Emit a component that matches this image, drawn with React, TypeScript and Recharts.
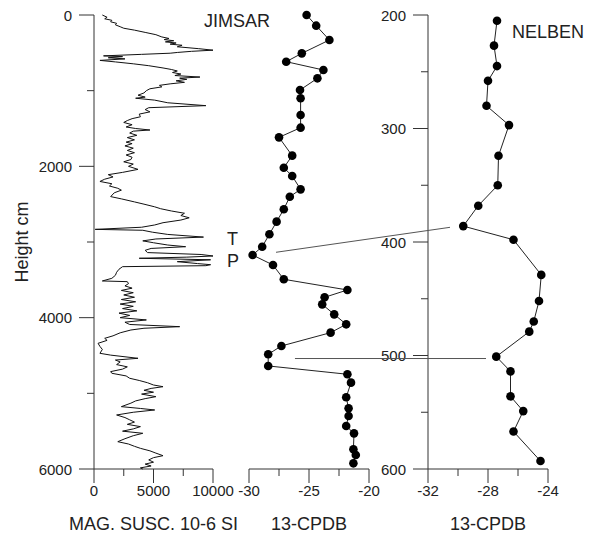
import { ReferenceLine, Scatter, ScatterChart, XAxis, YAxis } from "recharts";

// magnetic susceptibility log, Jimsar section (height cm, 10-6 SI)
const magHeights = [
  0, 30, 50, 70, 90, 110, 130, 155, 175, 200, 230, 260, 290, 310, 325, 340, 355, 370, 385, 400,
  420, 445, 465, 480, 495, 505, 520, 540, 550, 565, 580, 600, 620, 645, 670, 700, 720, 740, 760, 780,
  800, 820, 835, 850, 870, 890, 910, 930, 950, 975, 1000, 1030, 1060, 1085, 1100, 1125, 1160, 1198, 1225, 1250,
  1280, 1310, 1345, 1370, 1395, 1420, 1450, 1480, 1500, 1520, 1535, 1560, 1590, 1620, 1650, 1680, 1700, 1730, 1760, 1790,
  1820, 1850, 1880, 1910, 1940, 1970, 2000, 2040, 2080, 2110, 2140, 2170, 2200, 2230, 2260, 2290, 2315, 2350, 2400, 2430,
  2470, 2500, 2535, 2560, 2590, 2620, 2650, 2680, 2710, 2745, 2775, 2805, 2833, 2845, 2870, 2900, 2935, 2960, 2985, 3010,
  3040, 3062, 3085, 3110, 3140, 3165, 3185, 3200, 3215, 3235, 3260, 3285, 3300, 3313, 3326, 3360, 3400, 3440, 3480, 3515,
  3524, 3550, 3580, 3610, 3640, 3670, 3700, 3730, 3760, 3790, 3820, 3850, 3880, 3910, 3940, 3970, 4000, 4030, 4060, 4090,
  4119, 4140, 4163, 4200, 4240, 4273, 4300, 4339, 4380, 4420, 4471, 4495, 4537, 4560, 4585, 4620, 4650, 4680, 4713, 4735,
  4770, 4801, 4830, 4860, 4890, 4912, 4935, 4960, 4985, 5010, 5044, 5070, 5100, 5130, 5176, 5200, 5220, 5250, 5286, 5320,
  5350, 5380, 5410, 5440, 5470, 5500, 5528, 5560, 5600, 5639, 5670, 5700, 5727, 5760, 5790, 5824, 5850, 5880, 5910, 5935,
  5960, 5985, 6000,
];
const magSusc = [
  700, 1100, 900, 1500, 1400, 1900, 1800, 2200, 2500, 3400, 4300, 5200, 5700, 6300, 5900, 6700, 6000, 6900, 6400, 7400,
  7000, 8800, 10000, 8200, 7000, 6400, 4000, 800, 2400, 1200, 2600, 500, 1800, 3300, 4600, 5800, 6500, 7000, 6600, 7300,
  6800, 8900, 7200, 7800, 6900, 7600, 6400, 5500, 5700, 4700, 4400, 4200, 3700, 4300, 3500, 5100, 6200, 9400, 4600, 4300,
  4700, 3800, 3900, 3200, 2800, 2500, 3200, 2700, 3500, 4700, 3300, 3000, 3600, 2800, 3400, 2700, 3200, 2600, 3300, 2800,
  3400, 2700, 3200, 3100, 2500, 3300, 2900, 3700, 2400, 1200, 1600, 900, 500, 1500, 1300, 2000, 2300, 1700, 1400, 2300,
  3400, 4200, 5100, 5600, 6500, 7600, 7300, 8000, 7300, 5800, 5100, 4000, 100, 4100, 4900, 6200, 9200, 5200, 4100, 5000,
  6200, 7700, 4800, 4300, 4500, 9000, 10000, 7800, 3800, 9800, 7000, 8700, 9800, 9400, 2400, 2100, 1900, 1800, 1500, 700,
  2800, 2900, 2600, 3200, 2300, 3300, 2500, 3400, 2300, 3500, 2200, 3300, 2400, 3600, 2100, 3000, 2200, 4400, 2600, 3000,
  7200, 4200, 3100, 2200, 1600, 900, 1100, 340, 500, 700, 500, 1400, 3700, 1800, 2200, 1900, 2800, 2400, 1400, 1500,
  2700, 3000, 3800, 4500, 5000, 5800, 4800, 4200, 5000, 4000, 5200, 4300, 3500, 3100, 2300, 3900, 5100, 3300, 1900, 2600,
  3000, 3400, 2800, 3900, 3300, 2400, 4100, 3300, 2600, 2000, 2900, 3400, 3900, 4700, 5200, 5800, 5000, 4600, 5000, 4300,
  4800, 3900, 4100,
];

// d13C (PDB), Jimsar section
const jimsarHeights = [
  0, 141, 330, 507, 617, 727, 837, 991, 1101, 1322, 1489, 1617, 1859, 2018, 2128, 2304, 2401, 2568, 2731, 2898,
  3062, 3172, 3304, 3493, 3634, 3731, 3824, 3956, 4088, 4198, 4374, 4484, 4638, 4748, 4859, 5052, 5198, 5300, 5432, 5529,
  5740, 5815, 5925,
];
const jimsarD13C = [
  -25.2, -24.4, -23.3, -25.6, -26.9, -23.8, -24.3, -25.75, -25.7, -25.7, -25.7, -27.5, -26.4, -27.1, -26.4, -25.7, -26.6, -27.1, -27.7, -28.3,
  -28.9, -29.7, -28.0, -27.1, -21.8, -23.7, -23.9, -22.9, -21.9, -23.2, -27.3, -28.4, -28.4, -21.8, -21.5, -21.9, -21.7, -21.7, -21.9, -21.25,
  -21.3, -21.1, -21.3,
];

// d13C (PDB), Nelben section
const nelbenHeights = [205, 227, 245, 258, 280, 297, 324, 350, 368, 386, 398, 429, 452, 470, 479, 501, 514, 536, 549, 567, 593];
const nelbenD13C = [
  -27.4, -27.6, -27.4, -28.0, -28.1, -26.6, -27.3, -27.35, -28.65, -29.65, -26.3, -24.45, -24.6, -24.95, -25.25, -27.45, -26.5, -26.5,
  -25.65, -26.3, -24.5,
];

// correlation tie lines, endpoints in Jimsar axis units (x: d13C, y: height)
const tieFrom = [
  { x: -27.75, y: 3136 },
  { x: -26.17, y: 4540 },
];
const tieTo = [
  { x: -13.25, y: 2806 },
  { x: -10.25, y: 4540 },
];

const magTicks = [0, 2500, 5000, 7500, 10000];
const magMajor = [0, 5000, 10000];
const heightTicks = [0, 1000, 2000, 3000, 4000, 5000, 6000];
const heightMajor = [0, 2000, 4000, 6000];
const jimsarTicks = [-30, -27.5, -25, -22.5, -20];
const jimsarMajor = [-30, -25, -20];
const nelbenXTicks = [-32, -30, -28, -26, -24];
const nelbenXMajor = [-32, -28, -24];
const nelbenYTicks = [200, 250, 300, 350, 400, 450, 500, 550, 600];
const nelbenYMajor = [200, 300, 400, 500, 600];

const AXIS = "#333";
const INK = "#111";
const FONT = "'Liberation Sans', Arial, Helvetica, sans-serif";

const magData = magHeights.map((h, i) => ({ h, v: magSusc[i] }));
const jimsarData = jimsarHeights.map((h, i) => ({ h, v: jimsarD13C[i] }));
const nelbenData = nelbenHeights.map((h, i) => ({ h, v: nelbenD13C[i] }));

function BottomTick(props: any) {
  const { x, y, payload, major } = props;
  const isMajor = major.includes(payload.value);
  return (
    <g>
      <line x1={x} y1={y} x2={x} y2={y + (isMajor ? 14 : 7)} stroke={AXIS} />
      {isMajor && (
        <text x={x} y={y + 27} textAnchor="middle" fontSize={15} fontFamily={FONT} fill="#222">
          {payload.value}
        </text>
      )}
    </g>
  );
}

function LeftTick(props: any) {
  const { x, y, payload, major } = props;
  const isMajor = major.includes(payload.value);
  return (
    <g>
      <line x1={x} y1={y} x2={x - (isMajor ? 15 : 7)} y2={y} stroke={AXIS} />
      {isMajor && (
        <text x={x - 22} y={y + 5.5} textAnchor="end" fontSize={15} fontFamily={FONT} fill="#222">
          {payload.value}
        </text>
      )}
    </g>
  );
}

const dot = (p: any) => <circle cx={p.cx} cy={p.cy} r={4.3} fill="#000" />;
const noDot = () => <g />;

const titleLabel = (value: string) => ({
  value,
  position: "insideBottom" as const,
  offset: 8,
  fontSize: 18,
  fill: "#222",
  fontFamily: FONT,
});

export default function App() {
  return (
    <div
      style={{
        position: "absolute",
        left: 0,
        top: 0,
        width: 598,
        height: 538,
        background: "#fff",
        fontFamily: FONT,
      }}
    >
      {/* magnetic susceptibility */}
      <div style={{ position: "absolute", left: 0, top: 0 }}>
        <ScatterChart width={270} height={538} margin={{ top: 15, right: 57, bottom: 0, left: 0 }}>
          <XAxis
            type="number"
            dataKey="v"
            domain={[0, 10000]}
            ticks={magTicks}
            interval={0}
            tickSize={0}
            tickMargin={0}
            tickLine={false}
            axisLine={{ stroke: AXIS }}
            height={69}
            tick={(p: any) => <BottomTick {...p} major={magMajor} />}
            label={titleLabel("MAG. SUSC. 10-6 SI")}
          />
          <YAxis
            type="number"
            dataKey="h"
            domain={[0, 6000]}
            reversed
            ticks={heightTicks}
            interval={0}
            tickSize={0}
            tickMargin={0}
            tickLine={false}
            axisLine={{ stroke: AXIS }}
            width={94}
            tick={(p: any) => <LeftTick {...p} major={heightMajor} />}
            label={{
              value: "Height cm",
              angle: -90,
              position: "insideLeft",
              offset: 22,
              fontSize: 18,
              fill: "#222",
              fontFamily: FONT,
              style: { textAnchor: "middle" },
            }}
          />
          <Scatter
            data={magData}
            line={{ stroke: INK, strokeWidth: 1 }}
            lineType="joint"
            shape={noDot}
            isAnimationActive={false}
          />
        </ScatterChart>
      </div>

      {/* Nelben */}
      <div style={{ position: "absolute", left: 340, top: 0 }}>
        <ScatterChart width={258} height={538} margin={{ top: 15, right: 50, bottom: 0, left: 0 }}>
          <XAxis
            type="number"
            dataKey="v"
            domain={[-32, -24]}
            ticks={nelbenXTicks}
            interval={0}
            tickSize={0}
            tickMargin={0}
            tickLine={false}
            axisLine={{ stroke: AXIS }}
            height={69}
            tick={(p: any) => <BottomTick {...p} major={nelbenXMajor} />}
            label={titleLabel("13-CPDB")}
          />
          <YAxis
            type="number"
            dataKey="h"
            domain={[200, 600]}
            reversed
            ticks={nelbenYTicks}
            interval={0}
            tickSize={0}
            tickMargin={0}
            tickLine={false}
            axisLine={{ stroke: AXIS }}
            width={88}
            tick={(p: any) => <LeftTick {...p} major={nelbenYMajor} />}
          />
          <Scatter
            data={nelbenData}
            line={{ stroke: "#222", strokeWidth: 1 }}
            lineType="joint"
            shape={dot}
            isAnimationActive={false}
          />
        </ScatterChart>
      </div>

      {/* Jimsar d13C, with tie lines to Nelben */}
      <div style={{ position: "absolute", left: 200, top: 0 }}>
        <ScatterChart width={398} height={538} margin={{ top: 15, right: 229, bottom: 0, left: 49 }}>
          <XAxis
            type="number"
            dataKey="v"
            domain={[-30, -20]}
            ticks={jimsarTicks}
            interval={0}
            tickSize={0}
            tickMargin={0}
            tickLine={false}
            axisLine={{ stroke: AXIS }}
            height={69}
            tick={(p: any) => <BottomTick {...p} major={jimsarMajor} />}
            label={titleLabel("13-CPDB")}
          />
          <YAxis type="number" dataKey="h" domain={[0, 6000]} reversed hide />
          {tieFrom.map((a, i) => (
            <ReferenceLine
              key={i}
              segment={[a, tieTo[i]]}
              ifOverflow="visible"
              stroke="#555"
              strokeWidth={1}
            />
          ))}
          <Scatter
            data={jimsarData}
            line={{ stroke: "#222", strokeWidth: 1 }}
            lineType="joint"
            shape={dot}
            isAnimationActive={false}
          />
        </ScatterChart>
      </div>

      <svg
        width={598}
        height={538}
        style={{ position: "absolute", left: 0, top: 0, pointerEvents: "none" }}
        fontFamily={FONT}
        fontSize={18}
        fill="#222"
      >
        <text x={204} y={27}>JIMSAR</text>
        <text x={512} y={38}>NELBEN</text>
        <text x={227} y={245}>T</text>
        <text x={227} y={267}>P</text>
      </svg>
    </div>
  );
}
